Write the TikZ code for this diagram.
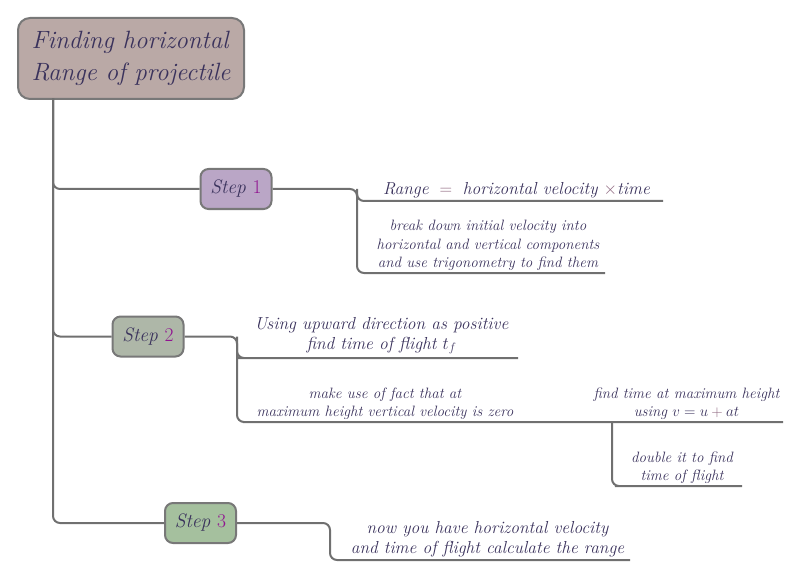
\RequirePackage{fix-cm}
\documentclass[tikz,border=0pt]{standalone}
\usetikzlibrary{calc}
\definecolor{txt}{RGB}{58,50,92}
\definecolor{numc}{RGB}{145,20,145}
\definecolor{opc}{RGB}{140,100,125}
\definecolor{linec}{RGB}{112,112,112}
\definecolor{bordc}{RGB}{120,120,120}
\definecolor{titlef}{RGB}{186,169,166}
\definecolor{stepAf}{RGB}{186,166,198}
\definecolor{stepBf}{RGB}{174,183,168}
\definecolor{stepCf}{RGB}{165,192,158}
\tikzset{
  conn/.style={draw=linec, line width=2pt, rounded corners=7pt},
  titlebox/.style={draw=bordc, line width=2pt, fill=titlef, rounded corners=12pt,
    minimum width=226pt, minimum height=81pt, align=left, text=txt,
    font=\fontsize{25}{32}\selectfont\itshape},
  stepbox/.style={draw=bordc, line width=2pt, rounded corners=8pt,
    minimum width=71pt, minimum height=40pt, text=txt,
    font=\fontsize{19.5}{22}\selectfont\itshape},
  bigleaf/.style={anchor=south, inner xsep=0pt, inner ysep=2.5pt, align=center, text=txt,
    font=\fontsize{17.4}{20}\selectfont\itshape},
  smallleaf/.style={anchor=south, inner xsep=0pt, inner ysep=2pt, align=center, text=txt,
    font=\fontsize{15}{18.5}\selectfont\itshape},
}
\newcommand{\stepnum}[1]{\textcolor{numc}{\upshape #1}}
\begin{document}
\begin{tikzpicture}[x=1pt,y=-1pt]
\useasboundingbox (0,0) rectangle (800,588);
% title
\node[titlebox] (title) at (131,58.5) {Finding horizontal\\Range of projectile};
\coordinate (trunk) at (53,98.5);
% steps
\node[stepbox, fill=stepAf] (s1) at (236,189) {Step \stepnum{1}};
\node[stepbox, fill=stepBf] (s2) at (148,336.5) {Step \stepnum{2}};
\node[stepbox, fill=stepCf] (s3) at (200.5,523) {Step \stepnum{3}};
% leaves
\node[bigleaf, minimum width=293pt] (t11) at (516.5,201)
  {Range $\;\textcolor{opc}{=}\;$ horizontal velocity $\textcolor{opc}{\times}$time};
\node[smallleaf, minimum width=234pt] (t12) at (488,273)
  {break down initial velocity into\\horizontal and vertical components\\and use trigonometry to find them};
\node[bigleaf, minimum width=273pt, inner ysep=3.5pt] (t21) at (381.5,358)
  {Using upward direction as positive\\find time of flight $t_f$};
\node[smallleaf, minimum width=270pt] (t22) at (385,422)
  {make use of fact that at\\maximum height vertical velocity is zero};
\node[smallleaf, minimum width=193pt] (t221) at (686.5,422)
  {find time at maximum height\\using $v=u\mathbin{\textcolor{opc}{+}}at$};
\node[smallleaf, minimum width=120pt] (t222) at (682,486)
  {double it to find\\time of flight};
\node[bigleaf, minimum width=285pt] (t3) at (487.5,560)
  {now you have horizontal velocity\\and time of flight calculate the range};
% junctions
\coordinate (j1) at (357,189);
\coordinate (j2) at (237,336.5);
\coordinate (j3) at (612,422);
\coordinate (j4) at (330,523);
% trunk connectors
\draw[conn] (trunk) |- (s1.west);
\draw[conn] (trunk) |- (s2.west);
\draw[conn] (trunk) |- (s3.west);
% step 1
\draw[conn] (s1.east) -- (j1) |- (t11.south west) -- (t11.south east);
\draw[conn] (j1) |- (t12.south west) -- (t12.south east);
% step 2
\draw[conn] (s2.east) -- (j2) |- (t21.south west) -- (t21.south east);
\draw[conn] (j2) |- (t22.south west) -- (t22.south east) -- (t221.south west) -- (t221.south east);
\draw[conn] (j3) |- (t222.south west) -- (t222.south east);
% step 3
\draw[conn] (s3.east) -- (j4) |- (t3.south west) -- (t3.south east);
\end{tikzpicture}
\end{document}
